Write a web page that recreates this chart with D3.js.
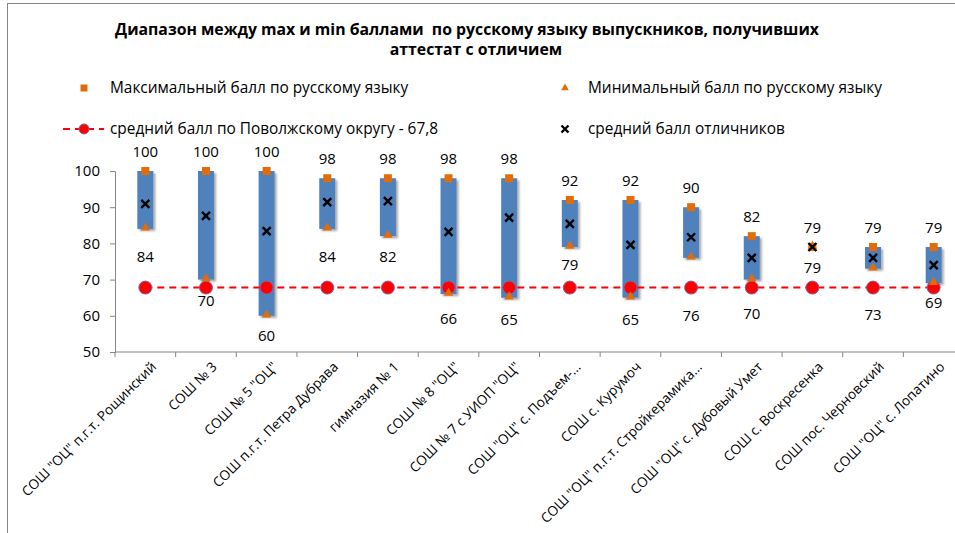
<!DOCTYPE html>
<meta charset="utf-8">
<style>
body { margin: 0; background: #fff; font-family: "Open Sans", "Liberation Sans", Arial, sans-serif; }
.axis path, .axis line { stroke: #868686; }
.axis text { font-family: "Open Sans", "Liberation Sans", Arial, sans-serif; fill: #000; }
.lbl { font-size: 15px; text-anchor: middle; }
.legend text { font-size: 15.4px; }
</style>
<body>
<script src="https://cdn.jsdelivr.net/npm/d3@7/dist/d3.min.js"></script>
<script>
// data
var schools = ['СОШ "ОЦ" п.г.т. Рощинский', 'СОШ № 3', 'СОШ № 5 "ОЦ"', 'СОШ п.г.т. Петра Дубрава',
  'гимназия № 1', 'СОШ № 8 "ОЦ"', 'СОШ № 7 с УИОП "ОЦ"', 'СОШ "ОЦ" с. Подъем-...', 'СОШ с. Курумоч',
  'СОШ "ОЦ" п.г.т. Стройкерамика...', 'СОШ "ОЦ" с. Дубовый Умет', 'СОШ с. Воскресенка',
  'СОШ пос. Черновский', 'СОШ "ОЦ" с. Лопатино'];
var maxScore = [100, 100, 100, 98, 98, 98, 98, 92, 92, 90, 82, 79, 79, 79];
var minScore = [84, 70, 60, 84, 82, 66, 65, 79, 65, 76, 70, 79, 73, 69];
var meanScore = [90.9, 87.6, 83.4, 91.4, 91.7, 83.2, 87.1, 85.4, 79.6, 81.7, 76, 79, 76, 74];
var regionMean = 67.8;
var yTicks = [50, 60, 70, 80, 90, 100];

// label placement below the min marker (px), as positioned in the original
var minLabelDy = [28, 21, 20, 28, 21, 25, 22, 18, 22, 58, 34, 21, 46, 20];

var W = 955, H = 533;
var orange = "#E36C09", blue = "#4F81BD", red = "#FF0000";

var svg = d3.select("body").append("svg").attr("width", W).attr("height", H);

// drop shadow for bars
var f = svg.append("defs").append("filter").attr("id", "sh")
  .attr("x", "-30%").attr("y", "-10%").attr("width", "170%").attr("height", "130%");
f.append("feDropShadow").attr("dx", 2).attr("dy", 2).attr("stdDeviation", 1.2)
  .attr("flood-color", "#000").attr("flood-opacity", 0.35);

// chart border
svg.append("rect").attr("x", 7.5).attr("y", 3.5).attr("width", 1000).attr("height", 600)
  .attr("fill", "none").attr("stroke", "#868686");

// title
var title = svg.append("text").attr("x", 467).attr("y", 35).attr("text-anchor", "middle")
  .style("font-weight", "bold").style("font-size", "15.8px").style("white-space", "pre");
title.append("tspan").attr("x", 467).attr("dy", 0).text("Диапазон между max и min баллами  по русскому языку выпускников, получивших");
title.append("tspan").attr("x", 476).attr("dy", 20).text("аттестат с отличием");

var x = d3.scaleBand().domain(schools).range([115, 964]);
var y = d3.scaleLinear().domain([50, 100]).range([352, 171]);
var cx = function(i) { return x(schools[i]) + x.bandwidth() / 2; };

// y axis
svg.append("g").attr("class", "axis").attr("transform", "translate(115,0)")
  .call(d3.axisLeft(y).tickValues(yTicks).tickSize(5).tickPadding(10))
  .call(function(g) { g.selectAll("text").style("font-size", "15px"); });

// x axis
var xa = svg.append("g").attr("class", "axis").attr("transform", "translate(0,352)");
xa.append("line").attr("x1", 115).attr("x2", 964).attr("stroke", "#868686");
xa.selectAll(".tk").data(schools.concat([null])).enter().append("line")
  .attr("x1", function(d, i) { return x.range()[0] + i * x.step(); })
  .attr("x2", function(d, i) { return x.range()[0] + i * x.step(); })
  .attr("y1", 0).attr("y2", 5).attr("stroke", "#868686");
xa.selectAll(".xl").data(schools).enter().append("text")
  .attr("transform", function(d, i) { return "translate(" + (cx(i) + 5) + ",9) rotate(-45)"; })
  .attr("text-anchor", "end").attr("dy", "0.7em").style("white-space", "pre")
  .style("font-size", "13.6px").text(function(d) { return d; });

var idx = d3.range(schools.length);

// bars (range max-min)
svg.selectAll(".bar").data(idx).enter().append("rect")
  .attr("x", function(i) { return cx(i) - 8; })
  .attr("width", 16)
  .attr("y", function(i) { return y(maxScore[i]); })
  .attr("height", function(i) { return y(minScore[i]) - y(maxScore[i]); })
  .attr("fill", blue).attr("filter", "url(#sh)");

// region mean dashed line
svg.append("line").attr("x1", cx(0)).attr("x2", cx(schools.length - 1))
  .attr("y1", y(regionMean)).attr("y2", y(regionMean))
  .attr("stroke", red).attr("stroke-width", 2).attr("stroke-dasharray", "7,5");

svg.selectAll(".rm").data(idx).enter().append("circle")
  .attr("cx", cx).attr("cy", y(regionMean)).attr("r", 6.5)
  .attr("fill", red).attr("stroke", "#7E66A8").attr("stroke-width", 1);

// max squares
svg.selectAll(".mx").data(idx).enter().append("rect")
  .attr("x", function(i) { return cx(i) - 4; })
  .attr("y", function(i) { return y(maxScore[i]) - 4; })
  .attr("width", 8).attr("height", 8).attr("fill", orange);

// min triangles
var tri = d3.symbol().type(d3.symbolTriangle).size(38);
svg.selectAll(".mn").data(idx).enter().append("path")
  .attr("d", tri)
  .attr("transform", function(i) { return "translate(" + cx(i) + "," + (y(minScore[i]) - 1) + ")"; })
  .attr("fill", orange);

// mean crosses
var cross = function(g, px, py, s) {
  g.append("path").attr("d", "M" + (px - s) + "," + (py - s) + "L" + (px + s) + "," + (py + s) +
    "M" + (px - s) + "," + (py + s) + "L" + (px + s) + "," + (py - s))
    .attr("stroke", "#000").attr("stroke-width", 2.4);
};
var cg = svg.append("g");
idx.forEach(function(i) { cross(cg, cx(i), y(meanScore[i]), 4); });

// labels
svg.selectAll(".lmax").data(idx).enter().append("text").attr("class", "lbl")
  .attr("x", cx).attr("y", function(i) { return y(maxScore[i]) - 19; })
  .attr("dy", "0.35em").text(function(i) { return maxScore[i]; });
svg.selectAll(".lmin").data(idx).enter().append("text").attr("class", "lbl")
  .attr("x", cx).attr("y", function(i) { return y(minScore[i]) + minLabelDy[i]; })
  .attr("dy", "0.35em").text(function(i) { return minScore[i]; });

// legend
var lg = svg.append("g").attr("class", "legend");
lg.append("rect").attr("x", 80.5).attr("y", 84.5).attr("width", 7).attr("height", 7).attr("fill", orange);
lg.append("text").attr("x", 110).attr("y", 88).attr("dy", "0.35em").text("Максимальный балл по русскому языку");
lg.append("path").attr("d", d3.symbol().type(d3.symbolTriangle).size(26))
  .attr("transform", "translate(565,88)").attr("fill", orange);
lg.append("text").attr("x", 588).attr("y", 88).attr("dy", "0.35em").text("Минимальный балл по русскому языку");
lg.append("line").attr("x1", 63).attr("x2", 104).attr("y1", 129).attr("y2", 129)
  .attr("stroke", red).attr("stroke-width", 2).attr("stroke-dasharray", "7,5");
lg.append("circle").attr("cx", 84).attr("cy", 129).attr("r", 5)
  .attr("fill", red).attr("stroke", "#7E66A8");
lg.append("text").attr("x", 110).attr("y", 129).attr("dy", "0.35em").text("средний балл по Поволжскому округу - 67,8");
cross(lg, 565, 129, 3.5);
lg.append("text").attr("x", 588).attr("y", 129).attr("dy", "0.35em").text("средний балл отличников");
</script>
</body>
